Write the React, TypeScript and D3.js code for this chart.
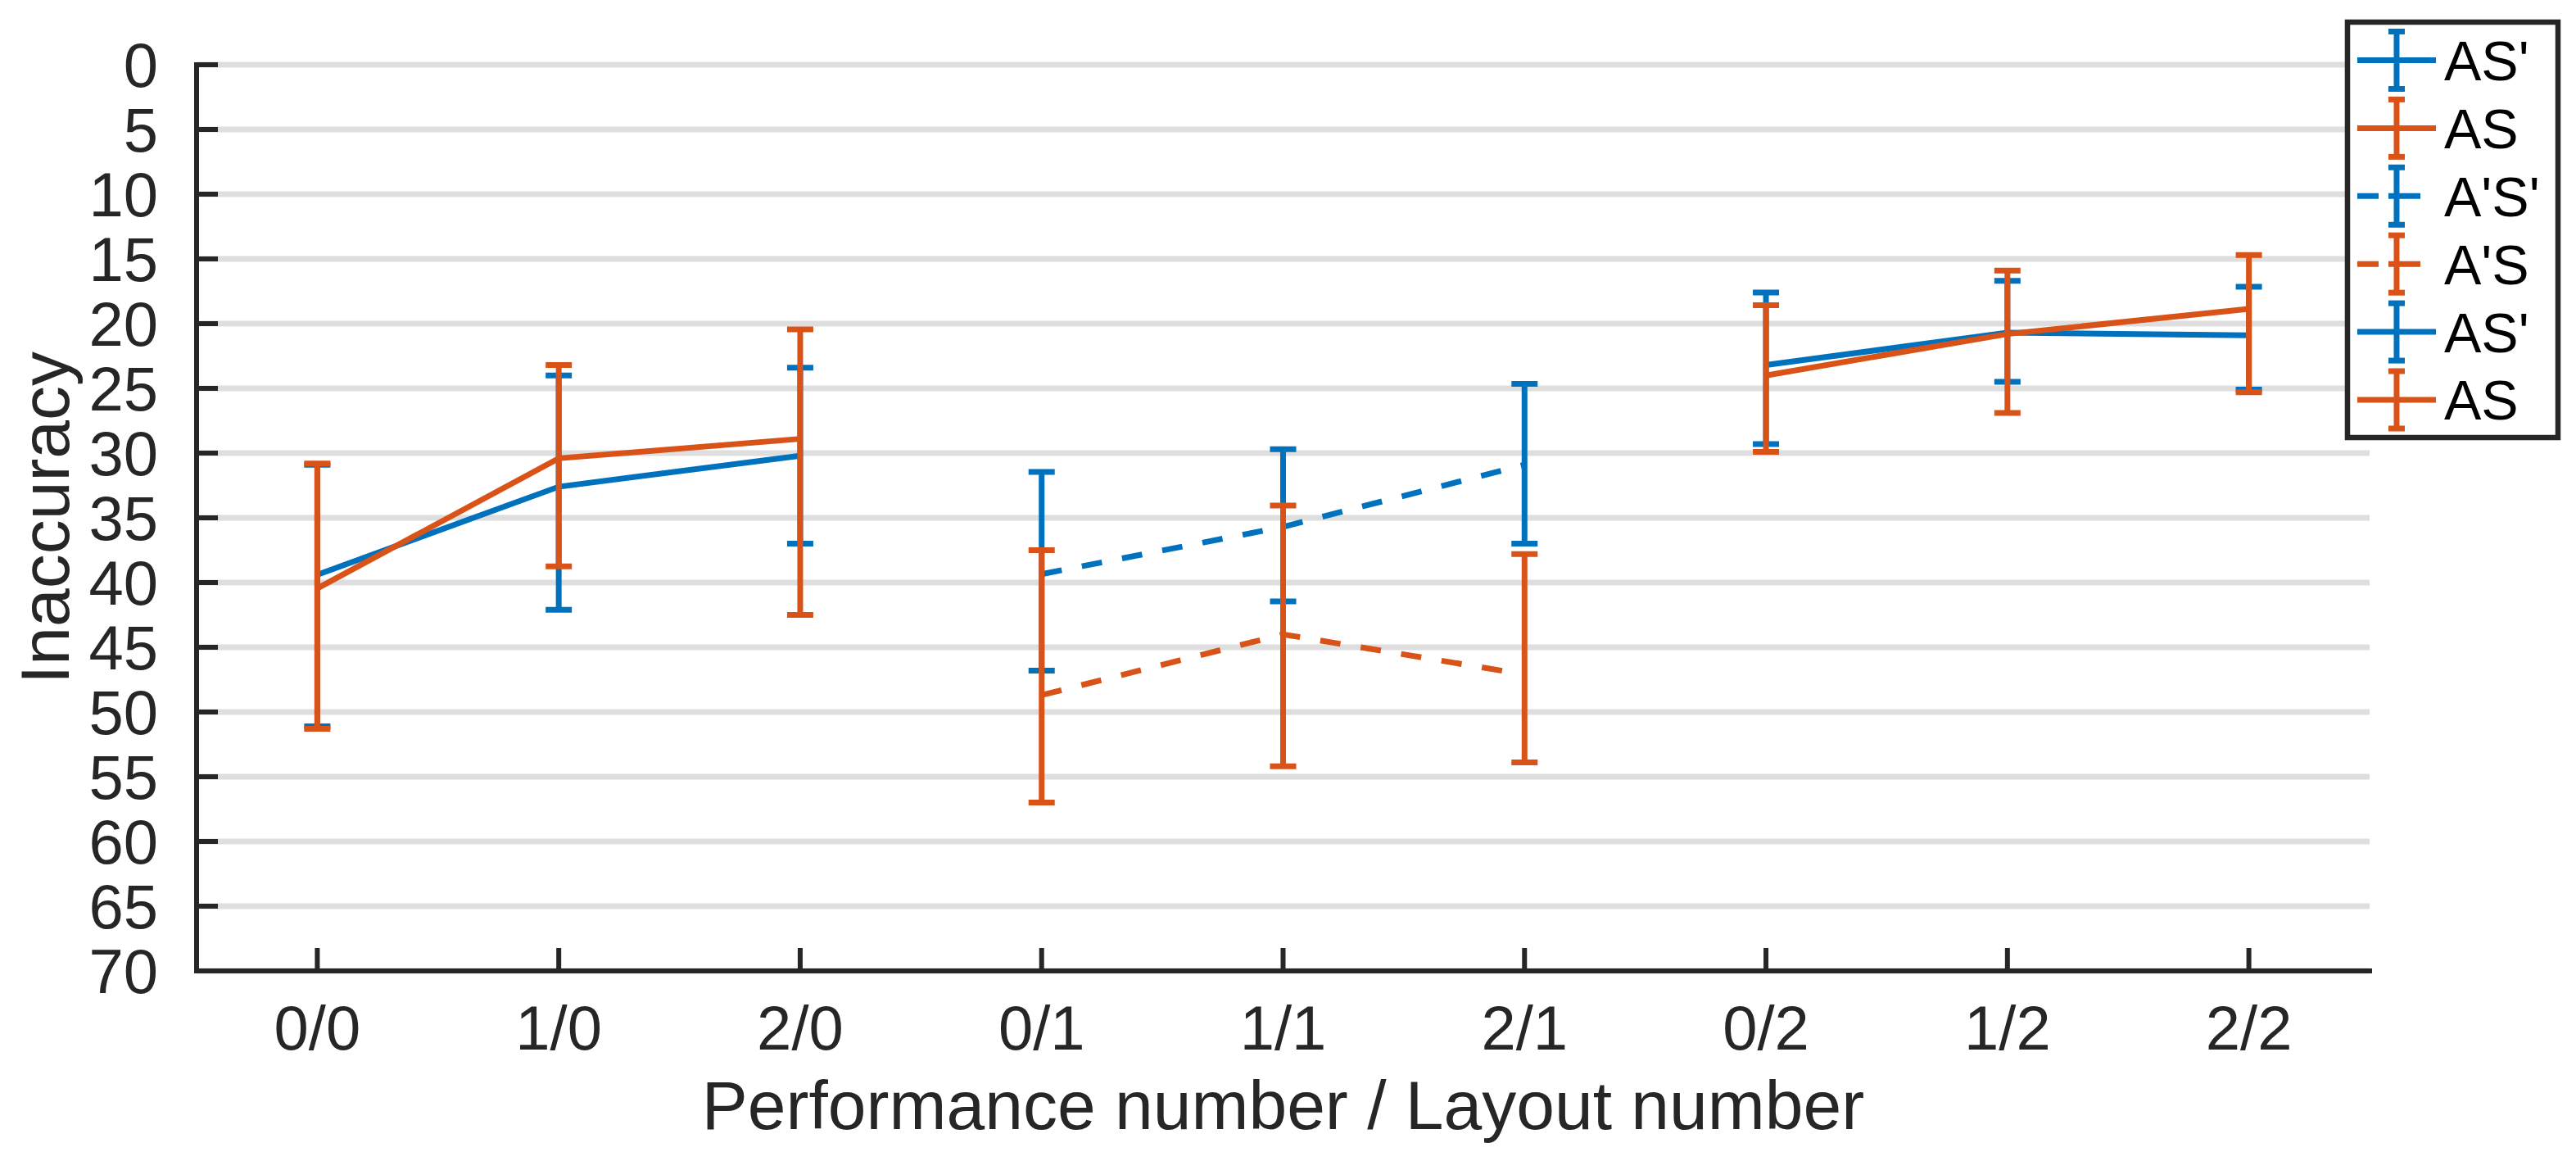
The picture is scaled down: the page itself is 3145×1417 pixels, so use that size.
import React from "react";
import * as d3 from "d3";

// categories along x (performance / layout)
const categories: string[] = ["0/0", "1/0", "2/0", "0/1", "1/1", "2/1", "0/2", "1/2", "2/2"];
const yTickValues: number[] = [0, 5, 10, 15, 20, 25, 30, 35, 40, 45, 50, 55, 60, 65, 70];

// six errorbar series, in drawing order
const seriesNames: string[] = ["AS'", "AS", "A'S'", "A'S", "AS'", "AS"];
const seriesColors: string[] = ["#0072BD", "#D95319", "#0072BD", "#D95319", "#0072BD", "#D95319"];
const seriesDashed: boolean[] = [false, false, true, true, false, false];
const seriesFirstCategory: number[] = [0, 0, 3, 3, 6, 6];

const seriesMeans: number[][] = [
  [39.4, 32.6, 30.2],
  [40.45, 30.4, 28.9],
  [39.35, 35.7, 30.9],
  [48.7, 44.0, 47.1],
  [23.2, 20.7, 20.9],
  [24.0, 20.8, 18.86],
];
const seriesTop: number[][] = [
  [30.9, 24.0, 23.4],
  [30.8, 23.2, 20.45],
  [31.45, 29.7, 24.65],
  [37.5, 34.05, 37.8],
  [17.6, 16.7, 17.15],
  [18.57, 15.9, 14.7],
];
const seriesBottom: number[][] = [
  [51.1, 42.1, 37.0],
  [51.3, 38.75, 42.5],
  [46.8, 41.45, 37.0],
  [57.0, 54.2, 53.9],
  [29.3, 24.5, 25.1],
  [29.9, 26.9, 25.3],
];

const W = 3145;
const H = 1417;
const left = 240;
const right = 2893;
const top = 79;
const bottom = 1185;
const axisColor = "#262626";
const gridColor = "#dedede";
const font = "'Liberation Sans', Arial, Helvetica, sans-serif";

export default function App() {
  const x = d3.scaleLinear().domain([0.5, categories.length + 0.5]).range([left, right]);
  const y = d3.scaleLinear().domain([0, 70]).range([top, bottom]);

  const capHalf = 16;

  // legend geometry
  const legX0 = 2866;
  const legY0 = 27;
  const legW = 257;
  const legH = 507;
  const rowY = d3.scaleLinear().domain([0, 5]).range([73.5, 488]);

  return (
    <svg
      width={W}
      height={H}
      style={{ position: "absolute", left: 0, top: 0, background: "#fff" }}
      fontFamily={font}
    >
      <rect x={0} y={0} width={W} height={H} fill="#fff" />

      {/* grid */}
      {yTickValues.map((t) => (
        <line key={"g" + t} x1={left} x2={right} y1={y(t)} y2={y(t)} stroke={gridColor} strokeWidth={7} />
      ))}

      {/* series */}
      {seriesMeans.map((means, s) => {
        const start = seriesFirstCategory[s];
        const color = seriesColors[s];
        const pts = means.map((_, j) => start + j + 1);
        const path = d3
          .line<number>()
          .x((_, j) => x(pts[j]))
          .y((d) => y(d))(means) as string;
        return (
          <g key={"s" + s}>
            {means.map((_, j) => {
              const cx = x(pts[j]);
              const y1 = y(seriesTop[s][j]);
              const y2 = y(seriesBottom[s][j]);
              return (
                <g key={j} stroke={color} strokeWidth={7}>
                  <line x1={cx} x2={cx} y1={y1} y2={y2} />
                  <line x1={cx - capHalf} x2={cx + capHalf} y1={y1} y2={y1} />
                  <line x1={cx - capHalf} x2={cx + capHalf} y1={y2} y2={y2} />
                </g>
              );
            })}
            <path
              d={path}
              fill="none"
              stroke={color}
              strokeWidth={7}
              strokeDasharray={seriesDashed[s] ? "25 25" : undefined}
            />
          </g>
        );
      })}

      {/* y axis */}
      <line x1={left} x2={left} y1={top - 3} y2={bottom + 3} stroke={axisColor} strokeWidth={6} />
      {yTickValues.map((t) => (
        <g key={"yt" + t}>
          <line x1={left} x2={left + 26} y1={y(t)} y2={y(t)} stroke={axisColor} strokeWidth={6} />
          <text
            x={193}
            y={y(t)}
            dy="0.36em"
            textAnchor="end"
            fontSize={76}
            fill={axisColor}
          >
            {t}
          </text>
        </g>
      ))}

      {/* x axis */}
      <line x1={left - 3} x2={right + 3} y1={bottom} y2={bottom} stroke={axisColor} strokeWidth={6} />
      {categories.map((c, i) => (
        <g key={"xt" + c}>
          <line x1={x(i + 1)} x2={x(i + 1)} y1={bottom} y2={bottom - 28} stroke={axisColor} strokeWidth={6} />
          <text x={x(i + 1)} y={1281} textAnchor="middle" fontSize={76} fill={axisColor}>
            {c}
          </text>
        </g>
      ))}

      <text x={(left + right) / 2} y={1378} textAnchor="middle" fontSize={84} fill={axisColor}>
        Performance number / Layout number
      </text>
      <text
        transform={`translate(84,${(top + bottom) / 2}) rotate(-90)`}
        textAnchor="middle"
        fontSize={84}
        fill={axisColor}
      >
        Inaccuracy
      </text>

      {/* legend */}
      <rect x={legX0} y={legY0} width={legW} height={legH} fill="#fff" stroke={axisColor} strokeWidth={6.5} />
      {seriesNames.map((name, s) => {
        const cy = rowY(s);
        const color = seriesColors[s];
        return (
          <g key={"l" + s}>
            <line
              x1={2878}
              x2={seriesDashed[s] ? 2955 : 2974}
              y1={cy}
              y2={cy}
              stroke={color}
              strokeWidth={7}
              strokeDasharray={seriesDashed[s] ? "26 12 39" : undefined}
            />
            <g stroke={color} strokeWidth={7}>
              <line x1={2926} x2={2926} y1={cy - 35} y2={cy + 35} />
              <line x1={2916} x2={2936} y1={cy - 35} y2={cy - 35} />
              <line x1={2916} x2={2936} y1={cy + 35} y2={cy + 35} />
            </g>
            <text x={2984} y={cy} dy="0.36em" fontSize={68} fill="#000">
              {name}
            </text>
          </g>
        );
      })}
    </svg>
  );
}
